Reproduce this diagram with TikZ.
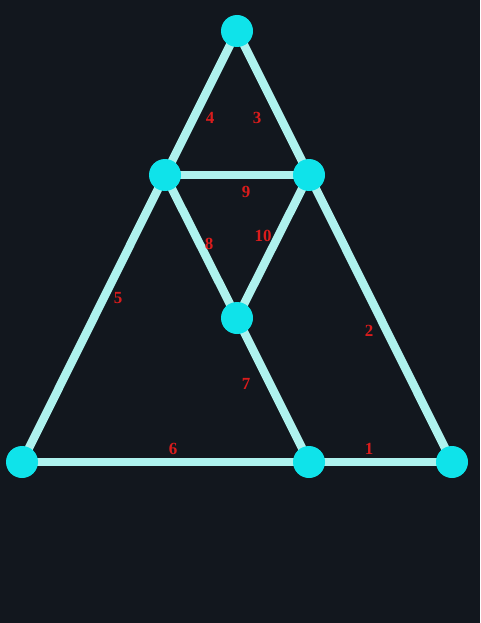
\documentclass[tikz,border=0pt]{standalone}
\usepackage{fontspec}
\setmainfont{Liberation Serif}
\usepackage{tikz}

\definecolor{board}{HTML}{12171E}
\definecolor{stick}{HTML}{AEF2EE}
\definecolor{pin}{HTML}{0FE3EA}
\definecolor{numred}{HTML}{DA1C1C}

\pgfdeclarelayer{bg}
\pgfsetlayers{bg,main}

\begin{document}
\begin{tikzpicture}[x=1pt,y=-1pt]

      \useasboundingbox (0,0) rectangle (480,623);

      \begin{scope}[every node/.style={circle,fill=pin,minimum size=32pt,inner sep=0pt}]
        \node (top) at (237,31) {};
        \node (ml) at (165,175) {};
        \node (mr) at (309,175) {};
        \node (c) at (237,318) {};
        \node (bl) at (22,462) {};
        \node (bm) at (309,462) {};
        \node (br) at (452,462) {};
      \end{scope}

      \begin{pgfonlayer}{bg}
        \fill[board] (0,0) rectangle (480,623);
        \begin{scope}[every edge/.style={draw=stick,line width=8.5pt}]
          \path (top.center) edge (ml.center);
          \path (top.center) edge (mr.center);
          \path (ml.center) edge (mr.center);
          \path (ml.center) edge (c.center);
          \path (mr.center) edge (c.center);
          \path (ml.center) edge (bl.center);
          \path (mr.center) edge (br.center);
          \path (c.center) edge (bm.center);
          \path (bl.center) edge (bm.center);
          \path (bm.center) edge (br.center);
        \end{scope}
      \end{pgfonlayer}

      \begin{scope}[every node/.style={text=numred,font=\fontsize{17}{17}\selectfont\bfseries,inner sep=0pt}]
        \node (n1) at (369,449) {1};
        \node (n2) at (369,331) {2};
        \node (n3) at (257,118) {3};
        \node (n4) at (210,118) {4};
        \node (n5) at (118,298) {5};
        \node (n6) at (173,449) {6};
        \node (n7) at (246,384) {7};
        \node (n8) at (209,244) {8};
        \node (n9) at (246,192) {9};
        \node (n10) at (263,236) {10};
      \end{scope}

    \end{tikzpicture}
\end{document}
